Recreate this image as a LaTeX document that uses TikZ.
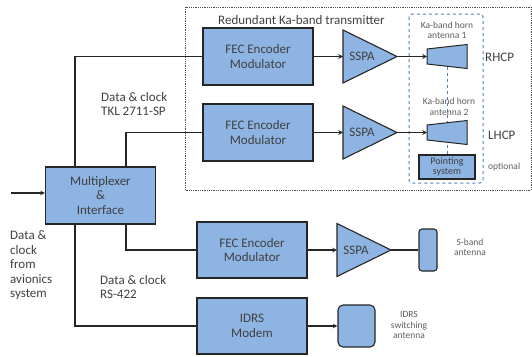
\documentclass[tikz,border=0pt]{standalone}
\usepackage{fontspec}
\setmainfont{Carlito}
\usetikzlibrary{calc}
\definecolor{blockblue}{HTML}{8DB4E2}
\definecolor{frameblue}{HTML}{4F81BD}
\definecolor{textgray}{HTML}{404040}
\begin{document}
\begin{tikzpicture}[x=1pt,y=-1pt,>=stealth,
    block/.style={draw=black!85,fill=blockblue,line width=1.1pt,minimum width=110pt,
        minimum height=57pt,inner sep=0pt,align=center,text=black!75,
        font=\fontsize{13}{14.5}\selectfont},
    amp/.style={draw=black!85,fill=blockblue,line width=1.1pt},
    link/.style={line width=1.1pt,black!85},
    lbl/.style={text=textgray,align=left,inner sep=0pt,font=\fontsize{13}{14.5}\selectfont},
    small/.style={text=textgray!85,align=center,inner sep=0pt,font=\fontsize{9.5}{10.5}\selectfont}]
    \useasboundingbox (0,0) rectangle (532,356);

    % Redundant Ka-band transmitter frame
    \draw[black!70,densely dotted,line width=0.8pt] (185,7) rectangle (531,190);
    \node[lbl,anchor=west] (title) at (218,20) {Redundant Ka-band transmitter};
    \draw[frameblue,dashed,line width=1pt,rounded corners=3pt] (409,14) rectangle (483,183);

    % Blocks
    \node[block] (mux) at (100.5,195.5) {Multiplexer\\\&\\Interface};
    \node[block] (fec1) at (258,56.5) {FEC Encoder\\Modulator};
    \node[block] (fec2) at (258,132.5) {FEC Encoder\\Modulator};
    \node[block,minimum height=56pt] (fec3) at (252,250) {FEC Encoder\\Modulator};
    \node[block,minimum height=56pt] (modem) at (252,326) {IDRS\\Modem};

    % SSPA triangles
    \foreach \n/\x/\y in {1/343/56.5, 2/343/132.5, 3/337/250} {
        \coordinate (s\n) at (\x,\y);
        \coordinate (tip\n) at ($(s\n)+(54,0)$);
        \draw[amp] ($(s\n)+(0,-26.5)$) -- (tip\n) -- ($(s\n)+(0,26.5)$) -- cycle;
        \node[lbl,anchor=center] (sspa\n) at ($(s\n)+(19,0)$) {SSPA};
    }

    % Pointing system and link to horns
    \node[block,minimum width=56pt,minimum height=24pt,
        font=\fontsize{10}{10.5}\selectfont] (point) at (447,167) {Pointing\\system};
    \draw[frameblue,dashed,line width=1pt] (447,66.5) -- (point.north);

    % Ka-band horns
    \foreach \n/\y in {1/56.5, 2/132.5} {
        \coordinate (h\n) at (427,\y);
        \draw[amp,line width=1pt] ($(h\n)+(0,-7.5)$) -- ($(h\n)+(40,-12)$)
            -- ($(h\n)+(40,12)$) -- ($(h\n)+(0,7.5)$) -- cycle;
    }
    \node[small] (horn1) at (447,30) {Ka-band horn\\antenna 1};
    \node[small] (horn2) at (449,106.5) {Ka-band horn\\antenna 2};
    \node[lbl,anchor=west] (rhcp) at (485,57) {RHCP};
    \node[lbl,anchor=west] (lhcp) at (488,135) {LHCP};
    \node[small,anchor=west] (opt) at (488,167) {optional};

    % S-band and IDRS antennas
    \node[amp,rounded corners=3pt,minimum width=18pt,minimum height=42pt,inner sep=0pt] (sant) at (428,250) {};
    \node[small] (santtxt) at (470,247) {S-band\\antenna};
    \node[amp,rounded corners=5pt,minimum width=37pt,minimum height=42pt,inner sep=0pt] (iant) at (356.5,326) {};
    \node[small] (ianttxt) at (409,325) {IDRS\\switching\\antenna};

    % Free labels
    \node[lbl,anchor=west] (tkl) at (101,104) {Data \& clock\\TKL 2711-SP};
    \node[lbl,anchor=west] (rs) at (100,287) {Data \& clock\\RS-422};
    \node[lbl,anchor=west] (avio) at (10,265.5) {Data \&\\clock\\from\\avionics\\system};

    % Connectors
    \coordinate (in) at (11,193);
    \draw[link,->] (in) -- (in -| mux.west);
    \draw[link] ($(mux.north west)+(30,0)$) |- (fec1.west);
    \draw[link] ($(mux.north west)+(81,0)$) |- (fec2.west);
    \draw[link] ($(mux.south west)+(81,0)$) |- (fec3.west);
    \draw[link] ($(mux.south west)+(30,0)$) |- (modem.west);
    \draw[link,->] (fec1.east) -- (s1);
    \draw[link,->] (fec2.east) -- (s2);
    \draw[link,->] (fec3.east) -- (s3);
    \draw[link,->] (tip1) -- (h1);
    \draw[link,->] (tip2) -- (h2);
    \draw[link] (tip3) -- (sant.west);
    \draw[link,->] (modem.east) -- (iant.west);
\end{tikzpicture}
\end{document}
